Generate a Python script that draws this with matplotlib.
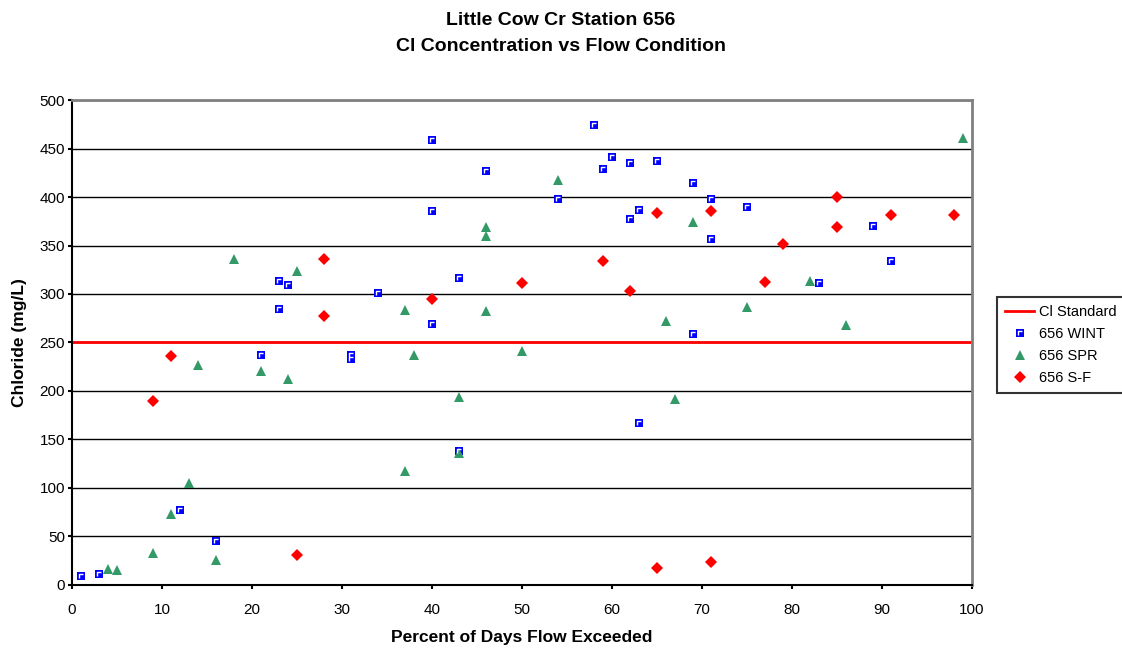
import numpy as np
import matplotlib
matplotlib.use("Agg")
import matplotlib.pyplot as plt
from matplotlib.path import Path

plt.rcParams['font.family'] = ['Liberation Sans', 'DejaVu Sans']

# 656 WINT (blue squares)
wint_x = [1, 3, 12, 16, 21, 23, 23, 24, 31, 31, 34, 40, 40, 40, 43, 43, 46, 54,
          58, 59, 60, 62, 62, 63, 63, 65, 69, 69, 71, 71, 75, 83, 89, 91]
wint_y = [9, 11, 77, 45, 237, 313, 285, 309, 237, 233, 301, 459, 386, 269, 316, 138,
          427, 398, 474, 429, 441, 435, 377, 387, 167, 437, 414, 259, 398, 357,
          390, 311, 370, 334]

# 656 SPR (green triangles)
spr_x = [4, 5, 9, 11, 13, 14, 16, 18, 21, 24, 25, 37, 37, 38, 43, 43, 46, 46, 46,
         50, 54, 66, 67, 69, 75, 82, 86, 99]
spr_y = [16, 15, 33, 73, 105, 227, 26, 336, 221, 212, 324, 284, 118, 237, 194, 136,
         369, 360, 282, 241, 418, 272, 192, 374, 287, 313, 268, 461]

# 656 S-F (red diamonds)
sf_x = [9, 11, 25, 28, 28, 40, 50, 59, 62, 65, 65, 71, 71, 77, 79, 85, 85, 91, 98]
sf_y = [190, 236, 31, 336, 277, 295, 311, 334, 303, 383, 18, 386, 24, 312, 352,
        400, 369, 381, 381]

cl_standard = 250
title = "Little Cow Cr Station 656\nCl Concentration vs Flow Condition"

fig = plt.figure(figsize=(11.22, 6.52), dpi=100)
ax = fig.add_axes([0.0642, 0.1028, 0.8021, 0.7438])

ax.set_xlim(0, 100)
ax.set_ylim(0, 500)
ax.set_xticks(np.arange(0, 101, 10))
ax.set_yticks(np.arange(0, 501, 50))
ax.yaxis.grid(True, color='black', linewidth=1)
ax.set_axisbelow(True)

# white corner glyph inside the Excel-style square marker
corner = Path([(-1, -1), (-1, 1), (1, 1)], [Path.MOVETO, Path.LINETO, Path.LINETO])

std_line = ax.axhline(cl_standard, color='red', linewidth=2, zorder=2)
sq, = ax.plot(wint_x, wint_y, 's', color='blue', markersize=5.8, markeredgewidth=0,
              zorder=3)
cr, = ax.plot(wint_x, wint_y, linestyle='none', marker=corner, markersize=2.4,
              markeredgecolor='white', markerfacecolor='none', markeredgewidth=1,
              zorder=4)
tri, = ax.plot(spr_x, spr_y, '^', color='#339966', markersize=7.5, markeredgewidth=0,
               zorder=3)
dia, = ax.plot(sf_x, sf_y, 'D', color='red', markersize=6.5, markeredgewidth=0,
               zorder=3)

for s in ['top', 'right']:
    ax.spines[s].set_color('#808080')
    ax.spines[s].set_linewidth(2)
for s in ['left', 'bottom']:
    ax.spines[s].set_color('black')
    ax.spines[s].set_linewidth(1.5)
ax.tick_params(direction='out', length=3, width=1.5, labelsize=11)
ax.tick_params(axis='x', pad=10)
ax.tick_params(axis='y', pad=2)

ax.set_xlabel("Percent of Days Flow Exceeded", fontsize=12.5, fontweight='bold', labelpad=9)
ax.set_ylabel("Chloride (mg/L)", fontsize=12.5, fontweight='bold', labelpad=9)

fig.text(0.5, 0.982, title, ha='center', va='top', fontsize=14, fontweight='bold',
         linespacing=1.75)

leg = ax.legend([std_line, (sq, cr), tri, dia],
                ['Cl Standard', '656 WINT', '656 SPR', '656 S-F'],
                loc='upper left', bbox_to_anchor=(1.028, 0.594), borderaxespad=0,
                frameon=True, fancybox=False, edgecolor='black', fontsize=10.5,
                handlelength=2.0, handletextpad=0.3, borderpad=0.55, labelspacing=0.55)
leg.get_frame().set_linewidth(1.5)

fig.savefig("out.png", dpi=100)
